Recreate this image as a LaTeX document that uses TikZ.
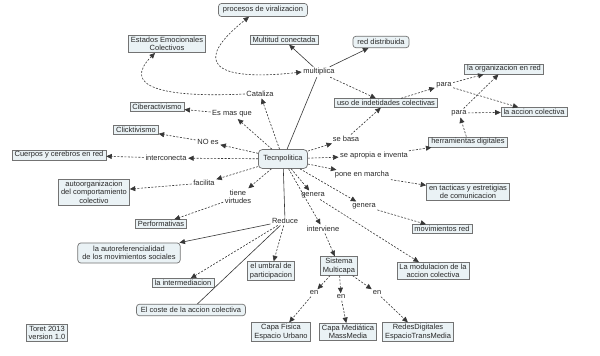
\documentclass[tikz,border=0pt]{standalone}
\usepackage{fontspec}
\setmainfont{Liberation Sans}
\usetikzlibrary{arrows.meta}
\definecolor{boxfill}{RGB}{234,242,245}
\definecolor{boxdraw}{RGB}{115,115,115}
\definecolor{txt}{RGB}{40,40,40}
\definecolor{lin}{RGB}{55,55,55}
\tikzset{
  concept/.style={draw=boxdraw, fill=boxfill, line width=0.7pt, inner xsep=2.5pt, inner ysep=1.6pt, align=center, text=txt},
  rconcept/.style={concept, rounded corners=3pt, inner xsep=4.5pt, inner ysep=3pt},
  phrase/.style={inner sep=1.5pt, align=center, text=txt},
  tip/.style={-{Triangle[length=5.5pt,width=5pt]}},
  link/.style={draw=lin, line width=0.6pt, dash pattern=on 2pt off 1.5pt, tip},
  solidlink/.style={draw=lin, line width=0.6pt},
  solidarrow/.style={solidlink, tip}
}
\begin{document}
\begin{tikzpicture}[x=1pt,y=-1pt,font=\fontsize{7.5}{8.5}\selectfont]
\fill[white] (0,0) rectangle (600,356);
\useasboundingbox (0,0) rectangle (600,356);
% concepts
\node[rconcept] (viral) at (263,10) {procesos de viralizacion};
\node[concept] (estados) at (167,44) {Estados Emocionales\\Colectivos};
\node[concept] (multitud) at (284,40) {Multitud conectada};
\node[rconcept] (reddist) at (381,42) {red distribuida};
\node[concept] (orgred) at (504,69) {la organizacion en red};
\node[concept] (uso) at (386,103) {uso de indetidades colectivas};
\node[concept] (accion) at (534,112) {la accion colectiva};
\node[concept] (herr) at (468,142) {herramientas digitales};
\node[rconcept, inner xsep=5pt, inner ysep=6pt, rounded corners=4pt] (tec) at (283,159) {Tecnpolitica};
\node[concept] (ciber) at (157,107) {Ciberactivismo};
\node[concept] (click) at (136,130) {Clicktivismo};
\node[concept] (cuerpos) at (59,155) {Cuerpos y cerebros en red};
\node[concept] (autoorg) at (94,192) {autoorganizacion\\del comportamiento\\colectivo};
\node[concept] (perf) at (161,224) {Performativas};
\node[concept] (tacticas) at (468,192) {en tacticas y estretigias\\de comunicacion};
\node[concept] (movred) at (442,229) {movimientos red};
\node[rconcept] (autoref) at (129,253) {la autoreferencialidad\\de los movimientos sociales};
\node[concept] (umbral) at (271,271) {el umbral de\\participacion};
\node[concept] (interm) at (183,283) {la intermediacion};
\node[rconcept] (coste) at (191,310) {El coste de la accion colectiva};
\node[concept] (toret) at (47,333) {Toret 2013\\version 1.0};
\node[concept] (sistema) at (339,266) {Sistema\\Multicapa};
\node[concept] (modul) at (433,271) {La modulacion de la\\accion colectiva};
\node[concept] (fisica) at (281,332) {Capa Fisica\\Espacio Urbano};
\node[concept] (mediatica) at (348,332) {Capa Mediática\\MassMedia};
\node[concept] (redesdig) at (418,332) {RedesDigitales\\EspacioTransMedia};
% linking phrases
\node[phrase] (lmult) at (319,72) {multiplica};
\node[phrase] (lcat) at (260,94) {Cataliza};
\node[phrase] (lesmas) at (232,114) {Es mas que};
\node[phrase] (lnoes) at (208,142) {NO es};
\node[phrase] (linter) at (166,158) {interconecta};
\node[phrase] (lfacil) at (204,183) {facilita};
\node[phrase] (ltiene) at (238,197) {tiene\\virtudes};
\node[phrase] (lreduce) at (285,221) {Reduce};
\node[phrase] (lgen1) at (313,195) {genera};
\node[phrase] (lgen2) at (364,206) {genera};
\node[phrase] (lintervi) at (323,229) {interviene};
\node[phrase] (lbasa) at (346,139) {se basa};
\node[phrase] (lapropia) at (374,156) {se apropia e inventa};
\node[phrase] (lpone) at (362,175) {pone en marcha};
\node[phrase] (lpara1) at (444,85) {para};
\node[phrase] (lpara2) at (459,113) {para};
\node[phrase] (len1) at (314,293) {en};
\node[phrase] (len2) at (341,297) {en};
\node[phrase] (len3) at (377,293) {en};
% solid connectors
\draw[solidlink] (tec) -- (lmult);
\draw[solidarrow] (lmult) -- (multitud);
\draw[solidarrow] (lmult) -- (reddist);
\draw[solidlink] (tec) -- (lreduce);
\draw[solidarrow] (lreduce) -- (autoref);
\draw[solidlink] (lreduce) -- (coste);
% curves
\draw[link] (lcat.west) .. controls (160,98) and (122,86) .. ([xshift=-12pt]estados.south);
\draw[link, {Triangle[length=5.5pt,width=5pt]}-{Triangle[length=5.5pt,width=5pt]}] (lmult.west) .. controls (212,82) and (192,62) .. ([xshift=-14pt]viral.south);
% dashed connectors
\draw[link] (lmult) -- (uso);
\draw[link] (tec) -- (lcat);
\draw[link] (tec) -- (lesmas);
\draw[link] (lesmas) -- (ciber);
\draw[link] (tec) -- (lnoes);
\draw[link] (lnoes) -- (click);
\draw[link] (tec) -- (linter);
\draw[link] (linter) -- (cuerpos);
\draw[link] (tec) -- (lfacil);
\draw[link] (lfacil) -- (autoorg);
\draw[link] (tec) -- (ltiene);
\draw[link] (ltiene) -- (perf);
\draw[link] (lreduce) -- (umbral);
\draw[link] (lreduce) -- (interm);
\draw[link] (tec) -- (lbasa);
\draw[link] (lbasa) -- (uso);
\draw[link] (tec) -- (lapropia);
\draw[link] (lapropia) -- (herr);
\draw[link] (tec) -- (lpone);
\draw[link] (lpone) -- (tacticas);
\draw[link] (tec) -- (lgen2);
\draw[link] (lgen2) -- (movred);
\draw[link] (tec) -- (lgen1);
\draw[link] (lgen1) -- (modul);
\draw[link] (tec) -- (lintervi);
\draw[link] (lintervi) -- (sistema);
\draw[link] (sistema) -- (len1);
\draw[link] (sistema) -- (len2);
\draw[link] (sistema) -- (len3);
\draw[link] (len1) -- (fisica);
\draw[link] (len2) -- (mediatica);
\draw[link] (len3) -- (redesdig);
\draw[link] (uso) -- (lpara1);
\draw[link] (lpara1) -- (orgred);
\draw[link] (lpara1) -- (accion);
\draw[link] (herr) -- (lpara2);
\draw[link] (lpara2) -- (accion);
\draw[link] (lpara2) -- (orgred);
\end{tikzpicture}
\end{document}
